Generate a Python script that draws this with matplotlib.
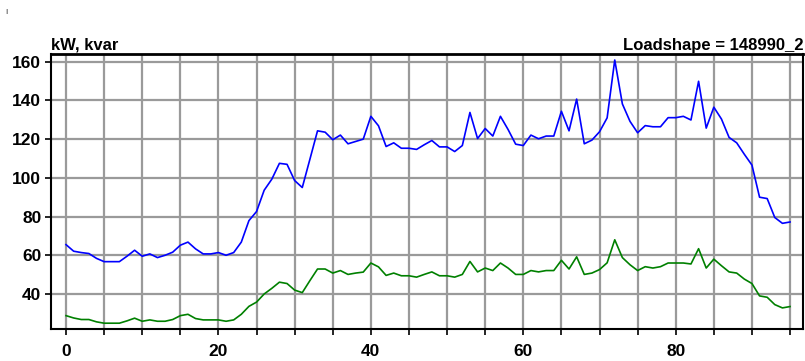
import matplotlib
matplotlib.use("Agg")
import matplotlib.pyplot as plt

# kW (blue) and kvar (green), 96 quarter-hour points
kw = [65.5, 62.1, 61.4, 60.9, 58.4, 56.7, 56.7, 56.7, 59.5, 62.6,
      59.5, 60.7, 58.8, 60.0, 61.6, 65.2, 66.8, 63.3, 60.7, 60.7,
      61.4, 60.0, 61.4, 66.8, 77.9, 82.6, 93.6, 99.3, 107.5, 107.0,
      98.6, 95.0, 109.6, 124.3, 123.6, 119.7, 122.1, 117.6, 118.8, 120.0,
      131.8, 126.9, 116.2, 118.1, 115.3, 115.3, 114.7, 117.1, 119.3, 116.0,
      116.0, 113.6, 116.7, 133.8, 120.3, 125.5, 121.6, 131.8, 125.0, 117.4,
      116.7, 122.1, 120.2, 121.6, 121.6, 134.4, 124.3, 140.7, 117.6, 119.5,
      123.8, 131.0, 160.9, 138.2, 129.2, 123.3, 127.0, 126.4, 126.4, 131.1,
      131.1, 131.8, 129.9, 149.9, 125.7, 136.5, 130.4, 120.9, 118.1, 112.2,
      106.6, 90.0, 89.3, 79.5, 76.5, 77.2]
kvar = [28.8, 27.6, 26.8, 26.8, 25.6, 24.9, 24.9, 24.9, 26.1, 27.5,
        25.9, 26.6, 25.9, 25.9, 26.8, 28.8, 29.5, 27.3, 26.6, 26.6,
        26.6, 25.9, 26.6, 29.5, 33.6, 35.8, 40.0, 42.9, 46.1, 45.4,
        42.0, 40.7, 46.9, 52.9, 52.9, 50.8, 52.1, 50.1, 50.8, 51.3,
        56.0, 54.0, 49.6, 50.8, 49.4, 49.4, 48.7, 50.1, 51.4, 49.4,
        49.4, 48.7, 50.1, 56.8, 51.4, 53.4, 52.1, 56.0, 53.4, 50.1,
        50.1, 52.1, 51.4, 52.1, 52.1, 57.4, 52.9, 59.2, 50.1, 50.8,
        52.6, 56.1, 68.0, 58.8, 55.1, 52.1, 54.1, 53.4, 54.1, 56.0,
        56.0, 56.0, 55.5, 63.4, 53.4, 58.0, 54.6, 51.4, 50.8, 47.7,
        45.4, 39.0, 38.3, 34.5, 32.8, 33.5]
hours = list(range(len(kw)))
x_labels = [0, 20, 40, 60, 80]

plt.rcParams["font.family"] = ["Liberation Sans", "DejaVu Sans"]
plt.rcParams["font.weight"] = "bold"

fig = plt.figure(figsize=(8.05, 3.61), dpi=100)
ax = fig.add_axes([51 / 805, 32 / 361, 752 / 805, 275 / 361])

ax.plot(hours, kw, color="#0000ff", lw=1.2, zorder=3)
ax.plot(hours, kvar, color="#008000", lw=1.2, zorder=3)

ax.set_xlim(-1.97, 96.7)
ax.set_ylim(21.9, 164.0)

ax.set_xticks(list(range(0, 96, 5)))
ax.set_xticklabels([str(v) if v in x_labels else "" for v in range(0, 96, 5)])
ax.set_yticks([40, 60, 80, 100, 120, 140, 160])

ax.grid(True, color="#9a9a9a", lw=1.6, zorder=1)
ax.tick_params(axis="both", labelsize=12.5, length=4, width=1.2, color="black")
ax.tick_params(axis="x", pad=7)
ax.tick_params(axis="y", pad=3)
for lbl in ax.get_xticklabels() + ax.get_yticklabels():
    lbl.set_fontweight("bold")

for side, sp in ax.spines.items():
    sp.set_color("black")
    sp.set_linewidth(1.5)
ax.spines["top"].set_linewidth(2)

ax.set_title("kW, kvar", loc="left", fontsize=12, fontweight="bold", pad=3)
ax.set_title("Loadshape = 148990_2", loc="right", fontsize=12, fontweight="bold", pad=3)

fig.text(0.007, 0.975, "I", fontsize=6, color="#333333", va="top", fontweight="normal")

fig.savefig("out.png", dpi=100)
